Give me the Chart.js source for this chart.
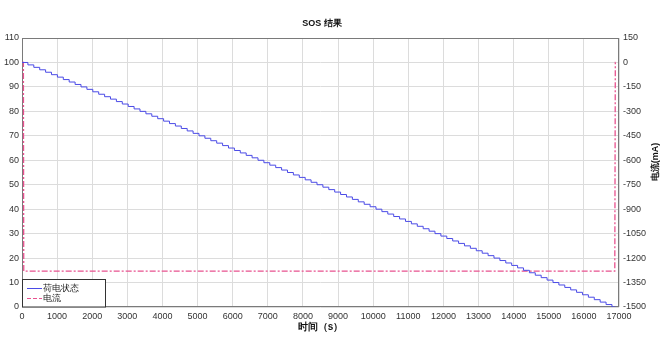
<!DOCTYPE html>
<html>
<head>
<meta charset="utf-8">
<script src="https://cdn.jsdelivr.net/npm/chart.js@4.4.0/dist/chart.umd.min.js"></script>
<style>
  body { margin: 0; background: #fff; }
  #wrap { width: 669px; height: 349px; position: relative; }
</style>
</head>
<body>
<div id="wrap"><canvas id="myChart"></canvas></div>
<script>
// SOC (%) steps
var socTimes = [0,168,336,504,672,840,1008,1176,1344,1512,
  1680,1848,2016,2184,2352,2520,2688,2856,3024,3192,
  3360,3528,3696,3864,4032,4200,4368,4536,4704,4872,
  5040,5208,5376,5544,5712,5880,6048,6216,6384,6552,
  6720,6888,7056,7224,7392,7560,7728,7896,8064,8232,
  8400,8568,8736,8904,9072,9240,9408,9576,9744,9912,
  10080,10248,10416,10584,10752,10920,11088,11256,11424,11592,
  11760,11928,12096,12264,12432,12600,12768,12936,13104,13272,
  13440,13608,13776,13944,14112,14280,14448,14616,14784,14952,
  15120,15288,15456,15624,15792,15960,16128,16296,16464,16632,
  16800,16900];
var socValues = [100,99,98,97,96,95,94,93,92,91,
  90,89,88,87,86,85,84,83,82,81,
  80,79,78,77,76,75,74,73,72,71,
  70,69,68,67,66,65,64,63,62,61,
  60,59,58,57,56,55,54,53,52,51,
  50,49,48,47,46,45,44,43,42,41,
  40,39,38,37,36,35,34,33,32,31,
  30,29,28,27,26,25,24,23,22,21,
  20,19,18,17,16,15,14,13,12,11,
  10,9,8,7,6,5,4,3,2,1,
  0,0];

// current (mA)
var curTimes  = [0, 40, 50, 16880, 16895, 16900];
var curValues = [0, 0, -1280, -1280, 0, 0];

var seriesNames = ["荷电状态", "电流"];
var titleText = "SOS 结果";
var xTitle = "时间（s）";
var y2Title = "电流(mA)";

var blue = "#4b4be6";
var pink = "#e8528f";
var fontName = "'Liberation Sans', Arial, sans-serif";

var toPoints = function (xs, ys) {
  var pts = [];
  for (var i = 0; i < xs.length; i++) {
    pts.push({ x: xs[i], y: ys[i] });
  }
  return pts;
};

var plainTick = function (value) {
  return String(value);
};

// frame, legend box, title and right axis title
var extras = {
  id: "extras",
  beforeDatasetsDraw: function (chart) {
    var ctx = chart.ctx;
    var a = chart.chartArea;
    ctx.save();
    ctx.strokeStyle = "#7a7a7a";
    ctx.lineWidth = 1;
    ctx.strokeRect(a.left + 0.5, a.top + 0.5, a.right - a.left - 1, a.bottom - a.top - 1);
    ctx.restore();
  },
  afterDatasetsDraw: function (chart) {
    var ctx = chart.ctx;
    var a = chart.chartArea;
    ctx.save();

    // legend
    var lx = a.left, ly = a.bottom - 28, lw = 83, lh = 28;
    ctx.fillStyle = "#fff";
    ctx.fillRect(lx, ly, lw, lh);
    ctx.strokeStyle = "#333";
    ctx.lineWidth = 1;
    ctx.strokeRect(lx + 0.5, ly + 0.5, lw, lh - 0.5);
    ctx.strokeStyle = blue;
    ctx.beginPath();
    ctx.moveTo(lx + 5, ly + 9.5);
    ctx.lineTo(lx + 20, ly + 9.5);
    ctx.stroke();
    ctx.strokeStyle = pink;
    ctx.setLineDash([4, 2]);
    ctx.beginPath();
    ctx.moveTo(lx + 5, ly + 19.5);
    ctx.lineTo(lx + 20, ly + 19.5);
    ctx.stroke();
    ctx.setLineDash([]);
    ctx.fillStyle = "#222";
    ctx.font = "9px " + fontName;
    ctx.textBaseline = "middle";
    ctx.textAlign = "left";
    ctx.fillText(seriesNames[0], lx + 21, ly + 10);
    ctx.fillText(seriesNames[1], lx + 21, ly + 20);

    // title
    ctx.textAlign = "center";
    ctx.font = "bold 9px " + fontName;
    ctx.fillStyle = "#111";
    ctx.fillText(titleText, 322, 24);

    // right axis title, reads bottom to top
    ctx.translate(656, 162);
    ctx.rotate(-Math.PI / 2);
    ctx.fillText(y2Title, 0, 0);
    ctx.restore();
  }
};

var ctx = document.getElementById("myChart");
var myChart = new Chart(ctx, {
  type: "line",
  data: {
    datasets: [
      {
        label: seriesNames[0],
        data: toPoints(socTimes, socValues),
        borderColor: blue,
        borderWidth: 1,
        pointRadius: 0,
        stepped: true,
        yAxisID: "y"
      },
      {
        label: seriesNames[1],
        data: toPoints(curTimes, curValues),
        borderColor: pink,
        borderWidth: 1.3,
        borderDash: [6, 2, 2, 2],
        pointRadius: 0,
        yAxisID: "y2"
      }
    ]
  },
  options: {
    responsive: true,
    maintainAspectRatio: false,
    animation: false,
    layout: { padding: { top: 38 } },
    plugins: {
      legend: { display: false },
      tooltip: { enabled: false },
      title: { display: false }
    },
    scales: {
      x: {
        type: "linear",
        min: 0,
        max: 17000,
        ticks: { stepSize: 1000, color: "#333", font: { family: fontName, size: 9 }, padding: 4, maxRotation: 0, callback: plainTick },
        grid: { color: "#dcdcdc", drawTicks: false },
        border: { display: false },
        title: {
          display: true,
          text: xTitle,
          color: "#111",
          font: { family: fontName, size: 10, weight: "bold", lineHeight: 1.2 },
          padding: { top: 0, bottom: 16 }
        },
        afterFit: function (scale) { scale.height = 42; }
      },
      y: {
        position: "left",
        min: 0,
        max: 110,
        ticks: { stepSize: 10, color: "#333", font: { family: fontName, size: 9 }, padding: 3, callback: plainTick },
        grid: { color: "#dcdcdc", drawTicks: false },
        border: { display: false },
        afterFit: function (scale) { scale.width = 22; }
      },
      y2: {
        position: "right",
        min: -1500,
        max: 150,
        ticks: { stepSize: 150, color: "#333", font: { family: fontName, size: 9 }, padding: 4, callback: plainTick },
        grid: { display: false, drawTicks: false },
        border: { display: false },
        afterFit: function (scale) { scale.width = 50; }
      }
    }
  },
  plugins: [extras]
});
</script>
</body>
</html>
